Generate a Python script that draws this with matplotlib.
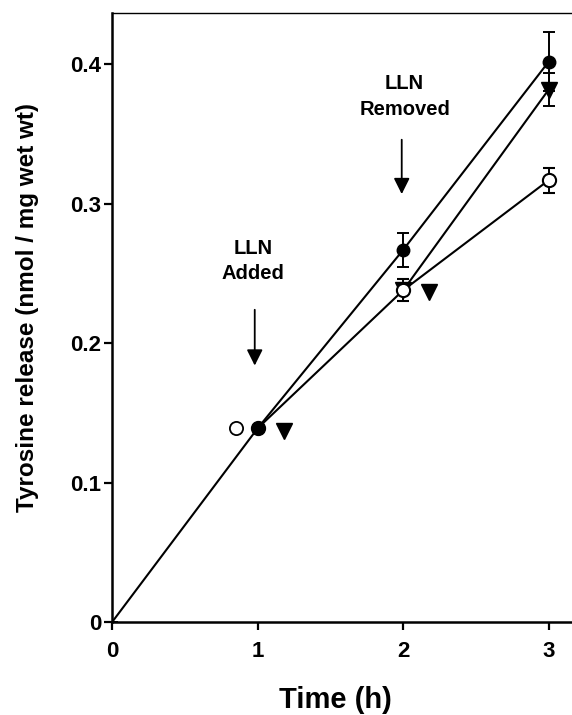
import matplotlib
matplotlib.use("Agg")
import matplotlib.pyplot as plt

plt.rcParams['font.family'] = ['Liberation Sans', 'DejaVu Sans']
plt.rcParams['font.weight'] = 'bold'

# Data
time = [0, 1, 2, 3]
control = [0, 0.139, 0.267, 0.402]          # filled circles
control_err = [0, 0, 0.012, 0.021]
lln_time = [1, 2, 3]
lln = [0.139, 0.238, 0.317]                 # open circles
lln_err = [0, 0.008, 0.009]
removed_time = [2, 3]
removed = [0.238, 0.382]                    # triangles
removed_err = [0, 0.012]

# offset symbols drawn beside the shared points
open_offset = ([0.85], [0.139])
tri_offset = ([1.18, 2.18], [0.137, 0.237])

fig = plt.figure(figsize=(5.72, 7.15), dpi=100)
ax = fig.add_axes([0.196, 0.130, 0.804, 0.852])

lw = 1.5
ax.errorbar(removed_time, removed, yerr=removed_err, color='black', lw=lw,
            marker='v', ms=11, mfc='black', capsize=4, elinewidth=1.4, capthick=1.4, zorder=3)
ax.errorbar(lln_time, lln, yerr=lln_err, color='black', lw=lw,
            marker='o', ms=9.5, mfc='white', mew=1.5, capsize=4, elinewidth=1.4, capthick=1.4, zorder=4)
ax.errorbar(time, control, yerr=control_err, color='black', lw=lw,
            marker='o', ms=9, mfc='black', capsize=4, elinewidth=1.4, capthick=1.4,
            markevery=[1, 2, 3], zorder=5)
ax.plot(*open_offset, 'o', ms=9.5, mfc='white', mec='black', mew=1.3)
ax.plot(*tri_offset, 'v', ms=11, color='black', ls='none')

# annotations
ax.annotate('', xy=(0.98, 0.182), xytext=(0.98, 0.226),
            arrowprops=dict(arrowstyle='-|>', color='black', lw=1.3, mutation_scale=24))
ax.text(0.97, 0.259, 'LLN\nAdded', ha='center', va='center', fontsize=14.5,
        fontweight='bold', linespacing=1.45)
ax.annotate('', xy=(1.99, 0.305), xytext=(1.99, 0.348),
            arrowprops=dict(arrowstyle='-|>', color='black', lw=1.3, mutation_scale=24))
ax.text(2.01, 0.377, 'LLN\nRemoved', ha='center', va='center', fontsize=14.5,
        fontweight='bold', linespacing=1.45)

ax.set_xlim(0, 3.16)
ax.set_ylim(0, 0.437)
ax.set_xticks([0, 1, 2, 3])
ax.set_xticklabels(['0', '1', '2', '3'])
ax.set_yticks([0, 0.1, 0.2, 0.3, 0.4])
ax.set_yticklabels(['0', '0.1', '0.2', '0.3', '0.4'])
ax.tick_params(axis='both', direction='out', length=6, width=1.6, labelsize=16)
ax.tick_params(axis='x', pad=8)
ax.tick_params(axis='y', pad=2)
for lab in ax.get_xticklabels() + ax.get_yticklabels():
    lab.set_fontweight('bold')

ax.spines['right'].set_visible(False)
ax.spines['left'].set_linewidth(1.8)
ax.spines['bottom'].set_linewidth(1.8)
ax.spines['top'].set_linewidth(1.0)

ax.set_xlabel('Time (h)', fontsize=21, fontweight='bold')
ax.xaxis.set_label_coords(0.485, -0.105)
ax.set_ylabel('Tyrosine release (nmol / mg wet wt)', fontsize=17.5, fontweight='bold')
ax.yaxis.set_label_coords(-0.16, 0.516)

fig.savefig('out.png', dpi=100)
